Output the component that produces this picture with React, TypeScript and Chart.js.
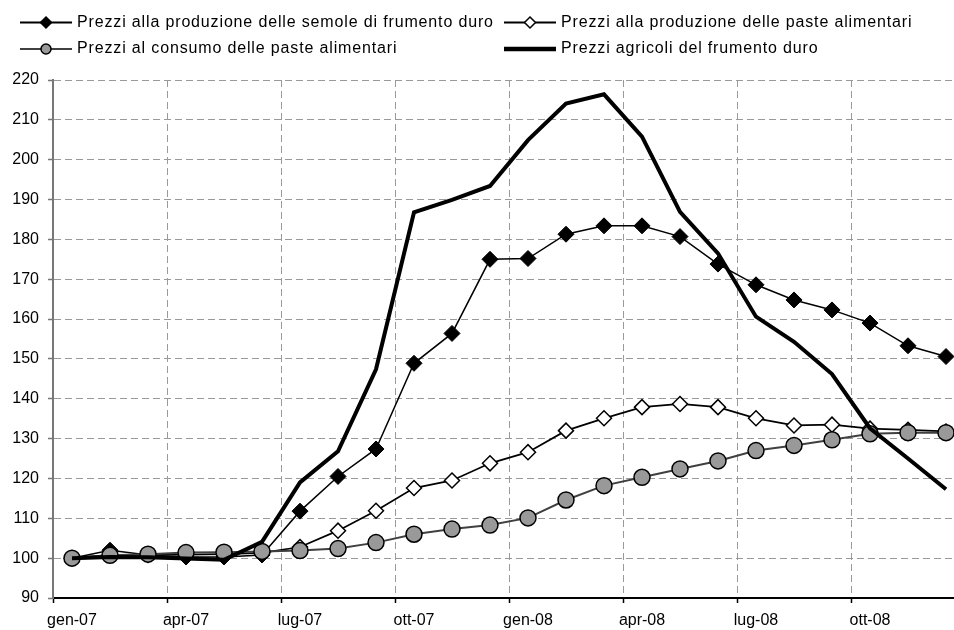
import React, { useEffect, useRef } from 'react';
import { Chart, registerables } from 'chart.js';

Chart.register(...registerables);

// ---- data ----
const categories = [
  'gen-07', 'feb-07', 'mar-07', 'apr-07', 'mag-07', 'giu-07',
  'lug-07', 'ago-07', 'set-07', 'ott-07', 'nov-07', 'dic-07',
  'gen-08', 'feb-08', 'mar-08', 'apr-08', 'mag-08', 'giu-08',
  'lug-08', 'ago-08', 'set-08', 'ott-08', 'nov-08', 'dic-08',
];

const semole = [
  100, 102.0, 100.8, 100.3, 100.3, 100.8, 111.8, 120.5, 127.4, 148.9, 156.4, 175.0,
  175.2, 181.3, 183.4, 183.4, 180.7, 173.8, 168.6, 164.8, 162.3, 159.0, 153.3, 150.6,
];

const pasteProduzione = [
  100, 100.8, 100.8, 100.9, 101.0, 101.3, 102.8, 106.9, 111.9, 117.6, 119.5, 123.8,
  126.6, 132.0, 135.1, 137.9, 138.7, 137.9, 135.1, 133.3, 133.5, 132.5, 132.2, 131.8,
];

const pasteConsumo = [
  100, 100.7, 101.0, 101.4, 101.5, 101.7, 101.9, 102.4, 103.9, 106.0, 107.3, 108.3,
  110.1, 114.6, 118.2, 120.3, 122.4, 124.4, 127.0, 128.3, 129.7, 131.2, 131.5, 131.5,
];

const agricoli = [
  100, 100.3, 100.2, 99.9, 99.6, 104.1, 119.0, 126.8, 147.4, 186.8, 189.9, 193.4,
  204.9, 214.1, 216.4, 205.8, 186.9, 176.5, 160.6, 154.3, 146.2, 132.6, 125.0, 117.3,
];

const seriesNames = [
  'Prezzi alla produzione delle semole di frumento duro',
  'Prezzi alla produzione delle paste alimentari',
  'Prezzi al consumo delle paste alimentari',
  'Prezzi agricoli del frumento duro',
];

const yMin = 90;
const yMax = 220;
const yStep = 10;

const FONT = '"Liberation Sans", Arial, Helvetica, sans-serif';

type Marker = 'diamondFilled' | 'diamondOpen' | 'circle' | 'none';

const legendStyles: { marker: Marker; lineColor: string; lineWidth: number }[] = [
  { marker: 'diamondFilled', lineColor: '#000', lineWidth: 2 },
  { marker: 'diamondOpen', lineColor: '#000', lineWidth: 2 },
  { marker: 'circle', lineColor: '#404040', lineWidth: 2 },
  { marker: 'none', lineColor: '#000', lineWidth: 4.5 },
];

const customLegend = {
  id: 'customLegend',
  afterDraw(chart: any) {
    const ctx = chart.ctx as CanvasRenderingContext2D;
    const colX = [20, 504];
    const rowY = [22.5, 49];
    const lineLen = 52;
    const gap = 5;
    ctx.save();
    chart.data.datasets.forEach((ds: any, i: number) => {
      const st = legendStyles[ds.legendIndex];
      const col = ds.legendIndex % 2;
      const row = Math.floor(ds.legendIndex / 2);
      const x0 = colX[col];
      const y = rowY[row];
      const cx = x0 + lineLen / 2;
      ctx.beginPath();
      ctx.setLineDash([]);
      ctx.strokeStyle = st.lineColor;
      ctx.lineWidth = st.lineWidth;
      ctx.lineCap = 'butt';
      ctx.moveTo(x0, y);
      ctx.lineTo(x0 + lineLen, y);
      ctx.stroke();
      if (st.marker === 'diamondFilled' || st.marker === 'diamondOpen') {
        const r = 5.5;
        ctx.beginPath();
        ctx.moveTo(cx, y - r);
        ctx.lineTo(cx + r, y);
        ctx.lineTo(cx, y + r);
        ctx.lineTo(cx - r, y);
        ctx.closePath();
        ctx.fillStyle = st.marker === 'diamondFilled' ? '#000' : '#fff';
        ctx.fill();
        ctx.lineWidth = 1.5;
        ctx.strokeStyle = '#000';
        ctx.stroke();
      } else if (st.marker === 'circle') {
        ctx.beginPath();
        ctx.arc(cx, y, 5, 0, Math.PI * 2);
        ctx.fillStyle = '#999';
        ctx.fill();
        ctx.lineWidth = 1.5;
        ctx.strokeStyle = '#000';
        ctx.stroke();
      }
      ctx.font = `16px ${FONT}`;
      (ctx as any).letterSpacing = '0.85px';
      ctx.fillStyle = '#000';
      ctx.textAlign = 'left';
      ctx.textBaseline = 'middle';
      ctx.fillText(ds.label, x0 + lineLen + gap, y);
    });
    ctx.restore();
  },
};

export default function App() {
  const ref = useRef<HTMLCanvasElement>(null);

  useEffect(() => {
    if (!ref.current) return;
    const quarter = (c: any) => c && c.type === 'tick' && c.index % 3 === 0;
    const chart = new Chart(ref.current, {
      type: 'line',
      data: {
        labels: categories,
        datasets: [
          {
            label: seriesNames[3],
            legendIndex: 3,
            data: agricoli,
            borderColor: '#000',
            borderWidth: 4,
            pointRadius: 0,
            pointHoverRadius: 0,
            tension: 0,
            order: 0,
          } as any,
          {
            label: seriesNames[2],
            legendIndex: 2,
            data: pasteConsumo,
            borderColor: '#404040',
            borderWidth: 2,
            pointStyle: 'circle',
            pointRadius: 8,
            pointBackgroundColor: '#999',
            pointBorderColor: '#000',
            pointBorderWidth: 1.5,
            tension: 0,
            order: 1,
          } as any,
          {
            label: seriesNames[1],
            legendIndex: 1,
            data: pasteProduzione,
            borderColor: '#000',
            borderWidth: 1.75,
            pointStyle: 'rectRot',
            pointRadius: 7.5,
            pointBackgroundColor: '#fff',
            pointBorderColor: '#000',
            pointBorderWidth: 1.5,
            tension: 0,
            order: 2,
          } as any,
          {
            label: seriesNames[0],
            legendIndex: 0,
            data: semole,
            borderColor: '#000',
            borderWidth: 1.5,
            pointStyle: 'rectRot',
            pointRadius: 8,
            pointBackgroundColor: '#000',
            pointBorderColor: '#000',
            pointBorderWidth: 1,
            tension: 0,
            order: 3,
          } as any,
        ],
      },
      options: {
        responsive: false,
        animation: false,
        devicePixelRatio: 1,
        layout: { padding: { left: 0, top: 80, right: 15, bottom: 0 } },
        plugins: {
          legend: { display: false },
          tooltip: { enabled: false },
          title: { display: false },
        },
        font: { family: FONT, size: 16 },
        scales: {
          x: {
            type: 'category',
            offset: true,
            grid: {
              offset: true,
              display: true,
              drawOnChartArea: true,
              drawTicks: true,
              tickLength: 5,
              lineWidth: 1,
              color: (c: any) => (quarter(c) ? '#9a9a9a' : 'rgba(0,0,0,0)'),
              tickColor: (c: any) => (quarter(c) ? '#000' : 'rgba(0,0,0,0)'),
              tickWidth: 1.5,
            } as any,
            border: { display: true, color: '#000', width: 2, dash: [7, 4] } as any,
            ticks: {
              autoSkip: false,
              maxRotation: 0,
              minRotation: 0,
              padding: 8,
              color: '#000',
              font: { family: FONT, size: 16 },
              callback: (_v: any, idx: number) => (idx % 3 === 0 ? categories[idx] : ''),
            },
            afterFit: (s: any) => {
              s.height = 32;
            },
          },
          y: {
            type: 'linear',
            min: yMin,
            max: yMax,
            grid: {
              color: '#9a9a9a',
              lineWidth: 1,
              tickLength: 5,
              tickColor: '#777',
              tickWidth: 1.5,
            } as any,
            border: { display: true, color: '#777', width: 2, dash: [7, 4] } as any,
            ticks: {
              stepSize: yStep,
              padding: 9,
              color: '#000',
              font: { family: FONT, size: 16 },
            },
            afterFit: (s: any) => {
              s.width = 53;
            },
          },
        },
      } as any,
      plugins: [customLegend],
    });
    return () => chart.destroy();
  }, []);

  return (
    <div
      style={{
        position: 'fixed',
        left: 0,
        top: 0,
        width: 954,
        height: 630,
        overflow: 'hidden',
        background: '#fff',
      }}
    >
      <canvas ref={ref} width={980} height={630} style={{ display: 'block', width: 980, height: 630 }} />
    </div>
  );
}
